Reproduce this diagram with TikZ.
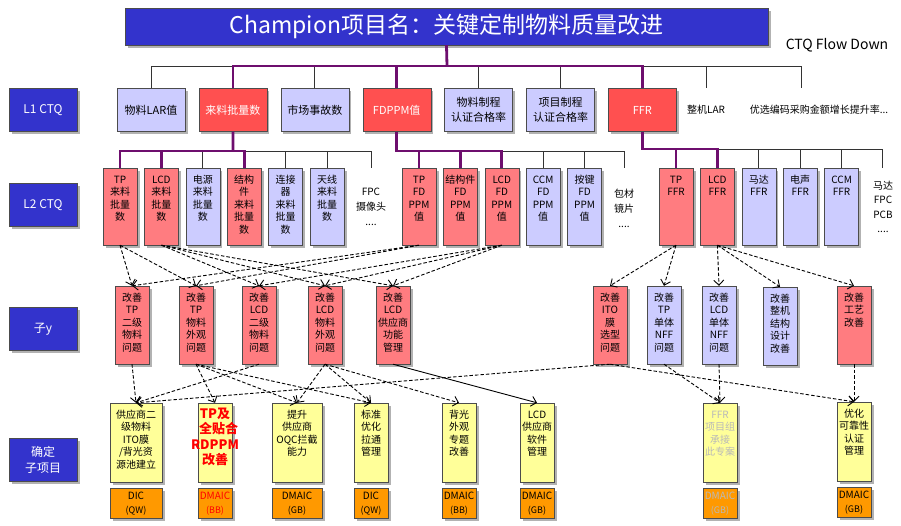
\documentclass[tikz,border=0pt]{standalone}
\usepackage{fontspec}
\setmainfont{Noto Sans CJK SC}
\usepackage{tikz}
\usetikzlibrary{positioning, shadows, arrows.meta}

\definecolor{ctqblue}{RGB}{51,51,204}
\definecolor{ctqred}{RGB}{255,80,80}
\definecolor{ctqpink}{RGB}{255,124,128}
\definecolor{ctqlav}{RGB}{204,204,255}
\definecolor{ctqyel}{RGB}{255,255,153}
\definecolor{ctqorg}{RGB}{255,153,0}
\definecolor{ctqline}{RGB}{110,14,110}
\definecolor{ctqgray}{RGB}{185,185,185}

\tikzset{
  boxshadow/.style={drop shadow={shadow xshift=2.5pt, shadow yshift=-2.5pt, fill=black!55, opacity=.55}},
  lvlbox/.style={draw=black!70, fill=ctqblue, text=white, minimum width=68pt, minimum height=43pt, font=\fontsize{12}{16}\selectfont, align=center, boxshadow},
  ctqbox/.style={draw=black!70, minimum width=68pt, minimum height=43pt, font=\fontsize{11}{15}\selectfont, align=center, boxshadow},
  tallbox/.style={draw=black!70, text width=32pt, inner xsep=1pt, inner ysep=3pt, text height=12pt, text depth=#1, font=\fontsize{10}{12.5}\selectfont, align=center, boxshadow},
  tallbox/.default=59pt,
  resbox/.style={draw=black!70, fill=ctqorg, text width=32pt, inner xsep=1pt, inner ysep=1pt, minimum height=30pt, font=\fontsize{10}{14}\selectfont, align=center, boxshadow},
  note/.style={font=\fontsize{10}{15}\selectfont, align=center},
  feed/.style={draw=black!80, line width=0.7pt},
  trunk/.style={draw=ctqline, line width=2.8pt},
  flow/.style={->, dash pattern=on 3.5pt off 2pt, line width=0.9pt},
}

\begin{document}
\begin{tikzpicture}[x=1pt, y=-1pt, >={Straight Barb[length=5pt, width=10pt]}]
    \useasboundingbox (0,0) rectangle (901,525);

    % title
    \node[draw=black!70, fill=ctqblue, text=white, minimum width=643pt, minimum height=37pt, font=\fontsize{23}{26}\selectfont, boxshadow] (title) at (446.5,26.5) {Champion项目名：关键定制物料质量改进};
    \node[font=\fontsize{14}{16}\selectfont] (cfd) at (837,45) {CTQ Flow Down};

    % level labels
    \node[lvlbox] (l1) at (43,110) {L1 CTQ};
    \node[lvlbox] (l2) at (43,205) {L2 CTQ};
    \node[lvlbox] (l3) at (43,329) {子y};
    \node[lvlbox] (l4) at (43,460) {确定\\子项目};

    % L1 CTQ
    \node[ctqbox, fill=ctqlav] (lar) at (151,110) {物料LAR值};
    \node[ctqbox, fill=ctqred, text=white, right=13.5pt of lar] (lpl) {来料批量数};
    \node[ctqbox, fill=ctqlav, right=13.5pt of lpl] (scsg) {市场事故数};
    \node[ctqbox, fill=ctqred, text=white, right=13.5pt of scsg] (fdppm) {FDPPM值};
    \node[ctqbox, fill=ctqlav, right=13.5pt of fdppm] (wlzc) {物料制程\\认证合格率};
    \node[ctqbox, fill=ctqlav, right=13.5pt of wlzc] (xmzc) {项目制程\\认证合格率};
    \node[ctqbox, fill=ctqred, text=white, right=13.5pt of xmzc] (ffr) {FFR};
    \node[note, minimum height=43pt] (zjlar) at (706,110) {整机LAR};
    \node[note] (yxbm) at (819,110) {优选编码采购金额增长提升率...};
    \coordinate (yxtop) at (801,88);
    \coordinate (top) at (447,66);

    \draw[feed] (lar.north) |- (top) -| (yxtop);
    \draw[feed] (top) -| (zjlar.north);
    \foreach \n in {scsg, wlzc, xmzc}
        \draw[feed] (\n.north) -- (\n.north |- top);
    \draw[trunk] (title.south) -- (top);
    \draw[trunk] (lpl.north) |- (top) -| (ffr.north);
    \draw[trunk] (fdppm.north) -- (fdppm.north |- top);

    % L2 CTQ, 来料批量数
    \node[tallbox, fill=ctqpink] (tp1) at (120,206.5) {TP\\来料\\批量\\数};
    \node[tallbox, fill=ctqpink, right=7pt of tp1] (lcd1) {LCD\\来料\\批量\\数};
    \node[tallbox, fill=ctqlav, right=7pt of lcd1] (dy1) {电源\\来料\\批量\\数};
    \node[tallbox, fill=ctqpink, right=7pt of dy1] (jg1) {结构\\件\\来料\\批量\\数};
    \node[tallbox, fill=ctqlav, right=7pt of jg1] (ljq1) {连接\\器\\来料\\批量\\数};
    \node[tallbox, fill=ctqlav, right=7pt of ljq1] (tx1) {天线\\来料\\批量\\数};
    \node[note] (fpc) at (371,207) {FPC\\摄像头\\....};
    \coordinate (fpctop) at (371,168);
    \coordinate (b1) at (233,151);

    \draw[feed] (b1) -| (fpctop);
    \foreach \n in {dy1, ljq1, tx1}
        \draw[feed] (\n.north) -- (\n.north |- b1);
    \draw[trunk] (lpl.south) -- (b1);
    \draw[trunk] (tp1.north) |- (b1) -| (jg1.north);
    \draw[trunk] (lcd1.north) -- (lcd1.north |- b1);

    % L2 CTQ, FDPPM
    \node[tallbox, fill=ctqpink] (tp2) at (419,206.5) {TP\\FD\\PPM\\值};
    \node[tallbox, fill=ctqpink, right=7pt of tp2] (jg2) {结构件\\FD\\PPM\\值};
    \node[tallbox, fill=ctqpink, right=7pt of jg2] (lcd2) {LCD\\FD\\PPM\\值};
    \node[tallbox, fill=ctqlav, right=7pt of lcd2] (ccm2) {CCM\\FD\\PPM\\值};
    \node[tallbox, fill=ctqlav, right=7pt of ccm2] (aj2) {按键\\FD\\PPM\\值};
    \node[note] (bc) at (624,208) {包材\\镜片\\....};
    \coordinate (bctop) at (624,168);
    \coordinate (b2) at (396,151);

    \draw[feed] (b2) -| (bctop);
    \foreach \n in {ccm2, aj2}
        \draw[feed] (\n.north) -- (\n.north |- b2);
    \draw[trunk] (fdppm.south) |- (lcd2.north |- b2) -- (lcd2.north);
    \draw[trunk] (tp2.north) -- (tp2.north |- b2);
    \draw[trunk] (jg2.north) -- (jg2.north |- b2);

    % L2 CTQ, FFR
    \node[tallbox, fill=ctqpink] (tp3) at (676,206.5) {TP\\FFR};
    \node[tallbox, fill=ctqpink, right=7pt of tp3] (lcd3) {LCD\\FFR};
    \node[tallbox, fill=ctqlav, right=7pt of lcd3] (md3) {马达\\FFR};
    \node[tallbox, fill=ctqlav, right=7pt of md3] (ds3) {电声\\FFR};
    \node[tallbox, fill=ctqlav, right=7pt of ds3] (ccm3) {CCM\\FFR};
    \node[note, font=\fontsize{10}{14.5}\selectfont] (mdf) at (883,207) {马达\\FPC\\PCB\\....};
    \coordinate (mdtop) at (882,168);
    \coordinate (b3) at (641,149);

    \draw[feed] (b3) -| (mdtop);
    \foreach \n in {md3, ds3, ccm3}
        \draw[feed] (\n.north) -- (\n.north |- b3);
    \draw[trunk] (ffr.south) |- (lcd3.north |- b3) -- (lcd3.north);
    \draw[trunk] (tp3.north) -- (tp3.north |- b3);

    % 子y
    \node[tallbox=60pt, fill=ctqpink] (s1) at (132,325) {改善\\TP\\二级\\物料\\问题};
    \node[tallbox=60pt, fill=ctqpink] (s2) at (196,325) {改善\\TP\\物料\\外观\\问题};
    \node[tallbox=60pt, fill=ctqpink] (s3) at (259,325) {改善\\LCD\\二级\\物料\\问题};
    \node[tallbox=60pt, fill=ctqpink] (s4) at (325,325) {改善\\LCD\\物料\\外观\\问题};
    \node[tallbox=60pt, fill=ctqpink] (s5) at (393,325) {改善\\LCD\\供应商\\功能\\管理};
    \node[tallbox=60pt, fill=ctqpink] (s6) at (610,325) {改善\\ITO\\膜\\选型\\问题};
    \node[tallbox=60pt, fill=ctqlav] (s7) at (664,325) {改善\\TP\\单体\\NFF\\问题};
    \node[tallbox=60pt, fill=ctqlav] (s8) at (719,325) {改善\\LCD\\单体\\NFF\\问题};
    \node[tallbox=60pt, fill=ctqlav] (s9) at (780,326) {改善\\整机\\结构\\设计\\改善};
    \node[tallbox=60pt, fill=ctqpink] (s10) at (854,325) {改善\\工艺\\改善};

    \draw[flow] (tp1.south) -- (s1.north);
    \draw[flow] (tp1.south) -- (s2.north);
    \draw[flow] (lcd1.south) -- (s3.north);
    \draw[flow] (lcd1.south) -- (s4.north);
    \draw[flow] (lcd1.south) -- (s5.north);
    \draw[flow] (tp2.south) -- (s1.north);
    \draw[flow] (tp2.south) -- (s2.north);
    \draw[flow] (lcd2.south) -- (s3.north);
    \draw[flow] (lcd2.south) -- (s4.north);
    \draw[flow] (lcd2.south) -- (s5.north);
    \draw[flow] (tp3.south) -- (s6.north);
    \draw[flow] (tp3.south) -- (s7.north);
    \draw[flow] (lcd3.south) -- (s8.north);
    \draw[flow] (lcd3.south) -- (s9.north);
    \draw[flow] (lcd3.south) -- (s10.north);

    % 确定子项目
    \node[tallbox=61pt, fill=ctqyel, text width=50pt] (y1) at (136,442.5) {供应商二\\级物料\\ITO膜\\/背光资\\源池建立};
    \node[tallbox=61pt, fill=ctqyel, text=red, font=\bfseries\fontsize{13}{15.5}\selectfont] (y2) at (215,442.5) {TP及\\全贴合\\\makebox[32pt]{RDPPM}\\改善};
    \node[tallbox=61pt, fill=ctqyel, text width=48pt] (y3) at (297,442.5) {提升\\供应商\\OQC拦截\\能力};
    \node[tallbox=61pt, fill=ctqyel] (y4) at (371,442.5) {标准\\优化\\拉通\\管理};
    \node[tallbox=61pt, fill=ctqyel] (y5) at (459,442.5) {背光\\外观\\专题\\改善};
    \node[tallbox=61pt, fill=ctqyel] (y6) at (537,442.5) {LCD\\供应商\\软件\\管理};
    \node[tallbox=61pt, fill=ctqyel, text=ctqgray] (y7) at (720,442.5) {FFR\\项目组\\承接\\此专案};
    \node[tallbox=61pt, fill=ctqyel] (y8) at (854,441.5) {优化\\可靠性\\认证\\管理};

    \draw[flow] (s1.south) -- (y1.north);
    \draw[flow] (s3.south) -- (y1.north);
    \draw[flow] (s6.south) -- (y1.north);
    \draw[flow] (s2.south) -- (y2.north);
    \draw[flow] (s2.south) -- (y3.north);
    \draw[flow] (s2.south) -- (y4.north);
    \draw[flow] (s4.south) -- (y3.north);
    \draw[flow] (s4.south) -- (y4.north);
    \draw[flow] (s4.south) -- (y5.north);
    \draw[->, line width=0.9pt] (s5.south) -- (y6.north);
    \draw[flow] (s7.south) -- (y7.north);
    \draw[flow] (s8.south) -- (y7.north);
    \draw[flow] (s6.south) -- (y8.north);
    \draw[flow] (s10.south) -- (y8.north);

    % 方法
    \node[resbox, text width=50pt, below=6pt of y1] (m1) {DIC\\{\small(QW)}};
    \node[resbox, text=red, below=6pt of y2] (m2) {DMAIC\\{\small(BB)}};
    \node[resbox, text width=48pt, below=6pt of y3] (m3) {DMAIC\\{\small(GB)}};
    \node[resbox, below=6pt of y4] (m4) {DIC\\{\small(QW)}};
    \node[resbox, below=6pt of y5] (m5) {DMAIC\\{\small(BB)}};
    \node[resbox, below=6pt of y6] (m6) {DMAIC\\{\small(GB)}};
    \node[resbox, text=ctqgray, below=6pt of y7] (m7) {DMAIC\\{\small(GB)}};
    \node[resbox, below=6pt of y8] (m8) {DMAIC\\{\small(GB)}};

\end{tikzpicture}
\end{document}
